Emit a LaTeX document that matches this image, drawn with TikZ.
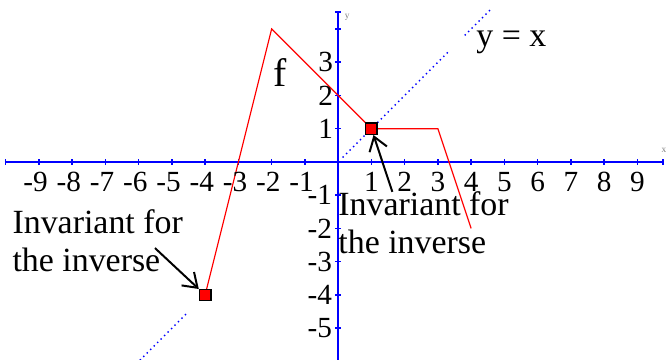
\documentclass[tikz,border=0pt]{standalone}
\usepackage{fontspec}
\setmainfont{Liberation Serif}
\usetikzlibrary{arrows.meta}
\pgfdeclarelayer{edgelayer}
\pgfdeclarelayer{nodelayer}
\pgfsetlayers{edgelayer,nodelayer,main}
\tikzstyle{axis}=[draw=blue, line width=1.5pt]
\tikzstyle{tickmark}=[draw=blue, line width=1.2pt]
\tikzstyle{diag}=[draw=blue, line width=1.7pt, dash pattern=on 0pt off 4.2pt, line cap=round]
\tikzstyle{fline}=[draw=red, line width=1pt]
\tikzstyle{pointer}=[draw=black, line width=1.7pt, -{Straight Barb[length=4mm, width=5.5mm, line width=1.7pt]}]
\tikzstyle{fixpt}=[rectangle, fill=red, draw=black, line width=1.2pt, minimum size=3.4mm, inner sep=0pt]
\tikzstyle{xnum}=[inner sep=0pt, anchor=base, font=\fontsize{25}{30}\selectfont]
\tikzstyle{ynum}=[inner sep=0pt, anchor=east, font=\fontsize{25}{30}\selectfont]
\tikzstyle{note}=[inner sep=0pt, align=left, font=\fontsize{29}{32.5}\selectfont]
\tikzstyle{axlabel}=[inner sep=0pt, text=gray, font=\fontsize{8}{9}\selectfont]

\begin{document}
\begin{tikzpicture}
	\useasboundingbox (-10.17, -5.95) rectangle (9.86, 4.87);
	\begin{pgfonlayer}{nodelayer}
		\node [style=fixpt] (sq1) at (1, 1) {};
		\node [style=fixpt] (sq2) at (-4, -4) {};
		\node [style=xnum] (xm9) at (-9.1, -0.9) {-9};
		\node [style=xnum] (xm8) at (-8.1, -0.9) {-8};
		\node [style=xnum] (xm7) at (-7.1, -0.9) {-7};
		\node [style=xnum] (xm6) at (-6.1, -0.9) {-6};
		\node [style=xnum] (xm5) at (-5.1, -0.9) {-5};
		\node [style=xnum] (xm4) at (-4.1, -0.9) {-4};
		\node [style=xnum] (xm3) at (-3.1, -0.9) {-3};
		\node [style=xnum] (xm2) at (-2.1, -0.9) {-2};
		\node [style=xnum] (xm1) at (-1.1, -0.9) {-1};
		\node [style=xnum] (x1) at (1, -0.9) {1};
		\node [style=xnum] (x2) at (2, -0.9) {2};
		\node [style=xnum] (x3) at (3, -0.9) {3};
		\node [style=xnum] (x4) at (4, -0.9) {4};
		\node [style=xnum] (x5) at (5, -0.9) {5};
		\node [style=xnum] (x6) at (6, -0.9) {6};
		\node [style=xnum] (x7) at (7, -0.9) {7};
		\node [style=xnum] (x8) at (8, -0.9) {8};
		\node [style=xnum] (x9) at (9, -0.9) {9};
		\node [style=ynum] (y3) at (-0.15, 3) {3};
		\node [style=ynum] (y2) at (-0.15, 2) {2};
		\node [style=ynum] (y1) at (-0.15, 1) {1};
		\node [style=ynum] (ym1) at (-0.18, -1) {-1};
		\node [style=ynum] (ym2) at (-0.18, -2) {-2};
		\node [style=ynum] (ym3) at (-0.18, -3) {-3};
		\node [style=ynum] (ym4) at (-0.18, -4) {-4};
		\node [style=ynum] (ym5) at (-0.18, -5) {-5};
		\node [style=axlabel] (xlbl) at (9.8, 0.36) {x};
		\node [style=axlabel] (ylbl) at (0.27, 4.36) {y};
		\node [style=note, font=\fontsize{34}{40}\selectfont] (flbl) at (-1.74, 2.68) {f};
		\node [style=note, anchor=base west] (yx) at (4.15, 3.46) {y = x};
		\node [style=note, anchor=north west] (inv1) at (0, -0.9) {Invariant for\\the inverse};
		\node [style=note, anchor=north west] (inv2) at (-9.8, -1.44) {Invariant for\\the inverse};
		\coordinate (tail1) at (1.63, -0.9);
		\coordinate (tail2) at (-5.51, -2.59);
	\end{pgfonlayer}
	\begin{pgfonlayer}{edgelayer}
		\draw [style=axis] (-10.02, 0) -- (9.77, 0);
		\draw [style=axis] (0, -5.95) -- (0, 4.51);
		\foreach \i in {-10,...,9} \draw [style=tickmark] (\i, -0.09) -- (\i, 0.09);
		\foreach \j in {-5,...,4} \draw [style=tickmark] (-0.09, \j) -- (0.09, \j);
		\draw [style=tickmark] (9.77, -0.09) -- (9.77, 0.09);
		\draw [style=tickmark] (-0.09, 4.51) -- (0.09, 4.51);
		\draw [style=diag] (-5.95, -5.95) -- (-4.54, -4.54);
		\draw [style=diag] (0.15, 0.15) -- (3.3, 3.3);
		\draw [style=diag] (3.82, 3.82) -- (4.57, 4.57);
		\draw [style=fline] (sq2.center) -- (-2, 4) -- (0, 2) -- (sq1.center) -- (3, 1) -- (4, -2);
		\draw [style=pointer] (tail1) -- (sq1);
		\draw [style=pointer] (tail2) -- (sq2);
	\end{pgfonlayer}
\end{tikzpicture}
\end{document}
